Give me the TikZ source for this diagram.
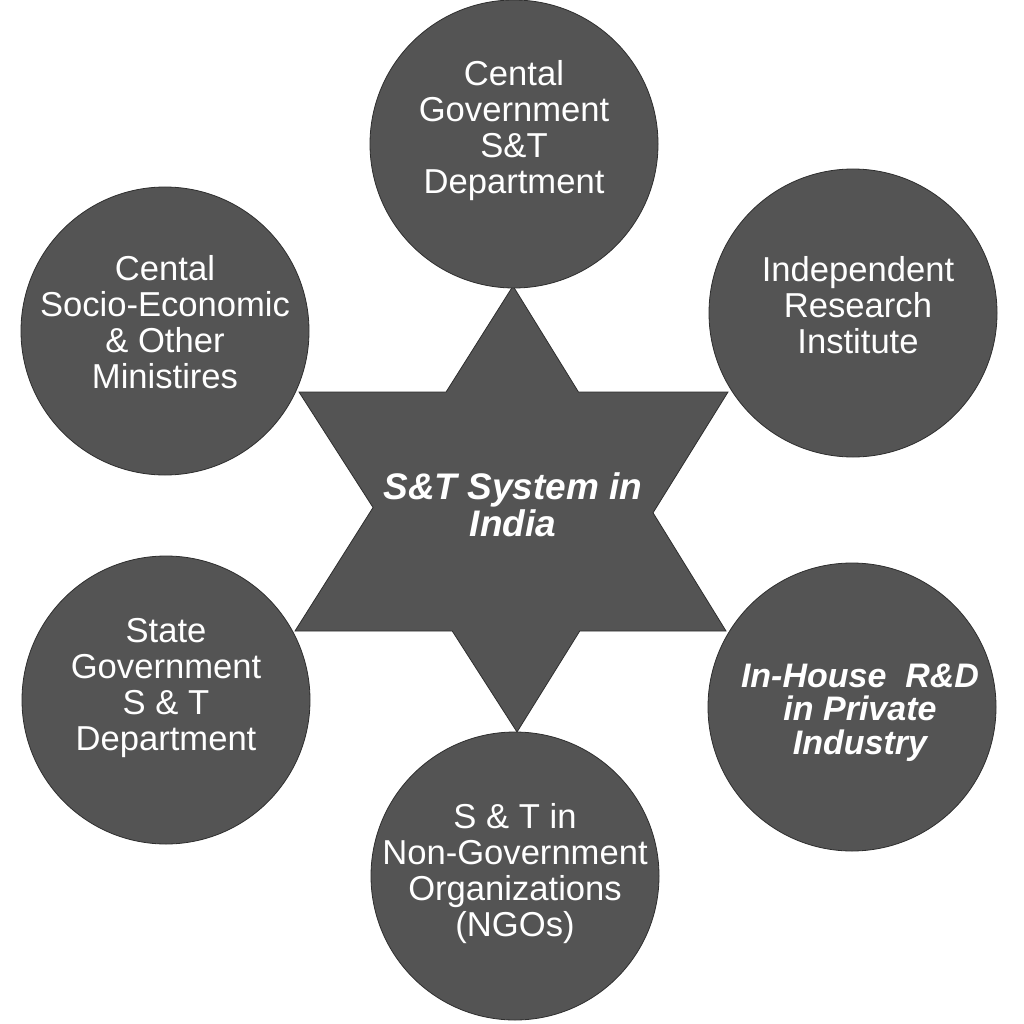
\documentclass[tikz,border=0pt]{standalone}
\usepackage{fontspec}
\setmainfont{Liberation Sans}
\definecolor{discgray}{HTML}{545454}
\definecolor{edgegray}{HTML}{2E2E2E}

\begin{document}
\begin{tikzpicture}[x=1pt,y=-1pt,
    disc/.style={circle, fill=discgray, draw=edgegray, line width=0.8pt,
                 minimum size=288pt, inner sep=0pt},
    disctext/.style={text=white, align=center, inner sep=0pt,
                     font=\fontsize{34.6}{36}\selectfont},
    boldtext/.style={text=white, align=center, inner sep=0pt,
                     font=\fontsize{34}{33.5}\selectfont\bfseries\itshape}]
    \useasboundingbox (0,0) rectangle (1024,1024);

    % the star: two triangles, outlined as one shape
    \coordinate (upT) at (513,286);
    \coordinate (upL) at (295,631);
    \coordinate (upR) at (726,631);
    \coordinate (dnB) at (517,732);
    \coordinate (dnL) at (299,392);
    \coordinate (dnR) at (728,392);
    \fill[discgray] (upT) -- (upL) -- (upR) -- cycle;
    \fill[discgray] (dnB) -- (dnL) -- (dnR) -- cycle;
    \draw[edgegray, line width=0.8pt] (upT)
        -- (intersection of upT--upR and dnL--dnR) -- (dnR)
        -- (intersection of upT--upR and dnR--dnB) -- (upR)
        -- (intersection of upL--upR and dnR--dnB) -- (dnB)
        -- (intersection of upL--upR and dnL--dnB) -- (upL)
        -- (intersection of upT--upL and dnL--dnB) -- (dnL)
        -- (intersection of upT--upL and dnL--dnR) -- cycle;
    \node[text=white, align=center, inner sep=0pt,
          font=\fontsize{37}{37}\selectfont\bfseries\itshape]
        (system) at (513,505) {S\&T System in\\India};

    % the six discs round the star
    \node[disc] (centgov)   at (514,144) {};
    \node[disc] (ministry)  at (165,331) {};
    \node[disc] (institute) at (853,313) {};
    \node[disc] (stategov)  at (166,700) {};
    \node[disc] (industry)  at (852,707) {};
    \node[disc] (ngo)       at (515,876) {};

    \node[disctext] (centgov-lbl) at ([yshift=13pt]centgov.center)
        {Cental\\Government\\S\&T\\Department};
    \node[disctext] (ministry-lbl) at ([yshift=8.5pt]ministry.center)
        {Cental\\Socio-Economic\\\& Other\\Ministires};
    \node[disctext] (institute-lbl) at ([xshift=5pt,yshift=8pt]institute.center)
        {Independent\\Research\\Institute};
    \node[disctext] (stategov-lbl) at ([yshift=11.5pt]stategov.center)
        {State\\Government\\S \& T\\Department};
    \node[boldtext] (industry-lbl) at ([xshift=8pt,yshift=-5.5pt]industry.center)
        {In-House\ \ R\&D\\in Private\\Industry};
    \node[disctext] (ngo-lbl) at ([yshift=2.5pt]ngo.center)
        {S \& T in\\Non-Government\\Organizations\\(NGOs)};
\end{tikzpicture}
\end{document}
